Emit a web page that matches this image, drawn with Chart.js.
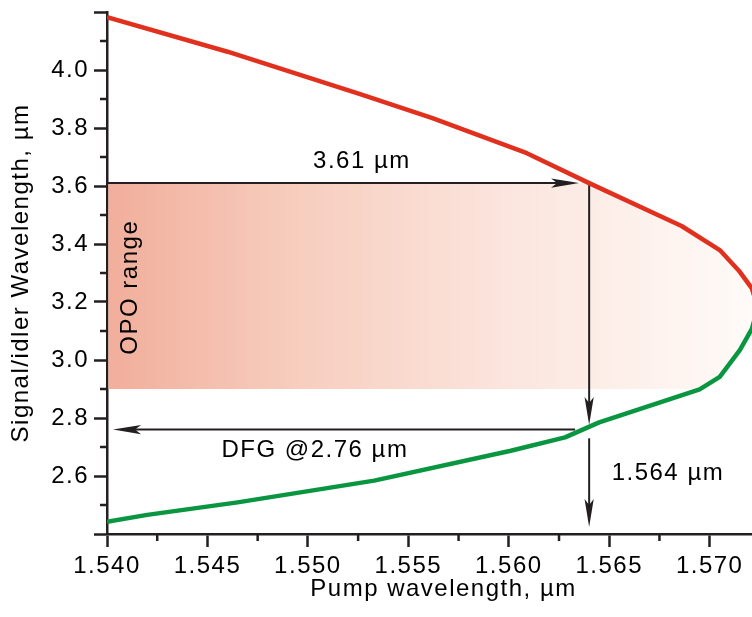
<!DOCTYPE html>
<html>
<head>
<meta charset="utf-8">
<script src="https://cdn.jsdelivr.net/npm/chart.js@4/dist/chart.umd.min.js"></script>
<style>
  html, body { margin: 0; padding: 0; background: #ffffff; overflow: hidden; }
  canvas { display: block; }
</style>
</head>
<body>
<canvas id="chart" width="780" height="617"></canvas>
<script>
// Upper tuning branch (red): pump wavelength (µm) -> long-wave output (µm)
const upperPump = [1.5400, 1.5460, 1.5526, 1.5562, 1.5609, 1.5640, 1.5686, 1.5705, 1.5715, 1.5721, 1.5724];
const upperWl   = [4.182, 4.063, 3.917, 3.834, 3.713, 3.610, 3.462, 3.379, 3.304, 3.247, 3.180];

// Lower tuning branch (green)
const lowerPump = [1.5400, 1.5420, 1.5465, 1.5533, 1.5601, 1.5628, 1.5645, 1.5695, 1.5705, 1.5715, 1.5721, 1.5724];
const lowerWl   = [2.442, 2.466, 2.509, 2.584, 2.687, 2.733, 2.785, 2.899, 2.942, 3.034, 3.107, 3.180];

// Operating point and OPO output band
const pumpWl = 1.564;       // µm
const signalWl = 3.61;      // µm
const dfgWl = 2.76;         // µm
const opoRange = [2.9, 3.61];

// Axis ticks
const xMajorTicks = [1.540, 1.545, 1.550, 1.555, 1.560, 1.565, 1.570];
const xTickLabels = ['1.540', '1.545', '1.550', '1.555', '1.560', '1.565', '1.570'];
const xMinorTicks = [1.5425, 1.5475, 1.5525, 1.5575, 1.5625, 1.5675, 1.5725];
const yMajorTicks = [2.4, 2.6, 2.8, 3.0, 3.2, 3.4, 3.6, 3.8, 4.0, 4.2];
const yTickLabels = ['', '2.6', '2.8', '3.0', '3.2', '3.4', '3.6', '3.8', '4.0', ''];
const yMinorTicks = [2.5, 2.7, 2.9, 3.1, 3.3, 3.5, 3.7, 3.9, 4.1];

const INK = '#231f20';
const FONT = '"Liberation Sans", Arial, sans-serif';
const FS = 24;
const SPACING = '1.5px';

Chart.defaults.font.family = FONT;
Chart.defaults.color = '#000';

function toPoints(xs, ys) { return xs.map((x, i) => ({ x, y: ys[i] })); }

function arrow(ctx, x1, y1, x2, y2) {
  const L = 28, W = 4.6, notch = 6;
  const dx = x2 - x1, dy = y2 - y1;
  const len = Math.hypot(dx, dy);
  const ux = dx / len, uy = dy / len;
  const nx = -uy, ny = ux;
  ctx.beginPath();
  ctx.moveTo(x1, y1);
  ctx.lineTo(x2 - ux * (L - notch), y2 - uy * (L - notch));
  ctx.stroke();
  ctx.beginPath();
  ctx.moveTo(x2, y2);
  ctx.lineTo(x2 - ux * L + nx * W, y2 - uy * L + ny * W);
  ctx.lineTo(x2 - ux * (L - notch), y2 - uy * (L - notch));
  ctx.lineTo(x2 - ux * L - nx * W, y2 - uy * L - ny * W);
  ctx.closePath();
  ctx.fill();
}

function interp(xs, ys, x) {
  for (let i = 0; i < xs.length - 1; i++) {
    if (x >= xs[i] && x <= xs[i + 1]) {
      const t = (x - xs[i]) / (xs[i + 1] - xs[i]);
      return ys[i] + t * (ys[i + 1] - ys[i]);
    }
  }
  return ys[ys.length - 1];
}

const spacingPlugin = {
  id: 'spacing',
  beforeUpdate(chart) { chart.ctx.letterSpacing = SPACING; },
  beforeDraw(chart) { chart.ctx.letterSpacing = SPACING; }
};

const overlayPlugin = {
  id: 'overlay',
  beforeDatasetsDraw(chart) {
    const { ctx, chartArea: a, scales: { x, y } } = chart;
    // OPO band, bounded by the two tuning branches
    ctx.save();
    ctx.beginPath();
    ctx.rect(a.left + 1.3, a.top, a.right - a.left, a.bottom - a.top);
    ctx.clip();
    ctx.beginPath();
    upperPump.forEach((p, i) => {
      const px = x.getPixelForValue(p), py = y.getPixelForValue(upperWl[i]);
      i ? ctx.lineTo(px, py) : ctx.moveTo(px, py);
    });
    for (let i = lowerPump.length - 1; i >= 0; i--) {
      ctx.lineTo(x.getPixelForValue(lowerPump[i]), y.getPixelForValue(lowerWl[i]));
    }
    ctx.closePath();
    ctx.clip();
    const g = ctx.createLinearGradient(a.left, 0, a.left + 650, 0);
    g.addColorStop(0, 'rgb(241,174,155)');
    g.addColorStop(0.3, 'rgb(247,206,191)');
    g.addColorStop(0.6, 'rgb(251,228,220)');
    g.addColorStop(1, 'rgb(255,251,249)');
    ctx.fillStyle = g;
    const yTop = y.getPixelForValue(opoRange[1]);
    const yBot = y.getPixelForValue(opoRange[0]);
    ctx.fillRect(a.left, yTop, a.right - a.left, yBot - yTop);
    ctx.restore();

    // Arrows
    ctx.save();
    ctx.strokeStyle = INK;
    ctx.fillStyle = INK;
    ctx.lineWidth = 2;
    const xp = x.getPixelForValue(pumpWl);
    const ySig = y.getPixelForValue(signalWl);
    const lowAtPump = interp(lowerPump, lowerWl, pumpWl);
    arrow(ctx, a.left + 1, ySig, x.getPixelForValue(1.5635), ySig);
    arrow(ctx, xp, ySig, xp, y.getPixelForValue(lowAtPump + 0.006));
    arrow(ctx, xp, y.getPixelForValue(2.73), xp, y.getPixelForValue(2.424));
    const yDfg = y.getPixelForValue(dfgWl);
    arrow(ctx, x.getPixelForValue(1.5633), yDfg, x.getPixelForValue(1.5403), yDfg);
    ctx.restore();
  },
  afterDatasetsDraw(chart) {
    const { ctx, scales: { x, y } } = chart;
    ctx.save();
    ctx.letterSpacing = SPACING;
    ctx.fillStyle = '#000';
    ctx.font = `${FS}px ${FONT}`;
    ctx.textBaseline = 'middle';
    ctx.textAlign = 'center';
    ctx.fillText(signalWl.toFixed(2) + ' µm', x.getPixelForValue(1.55269), y.getPixelForValue(3.686));
    ctx.fillText('DFG @' + dfgWl.toFixed(2) + ' µm', x.getPixelForValue(1.55035), y.getPixelForValue(2.689));
    ctx.textAlign = 'left';
    ctx.fillText(pumpWl.toFixed(3) + ' µm', x.getPixelForValue(1.56512), y.getPixelForValue(2.609));
    ctx.translate(x.getPixelForValue(1.54114), y.getPixelForValue(3.251));
    ctx.rotate(-Math.PI / 2);
    ctx.textAlign = 'center';
    ctx.fillText('OPO range', 0, 0);
    ctx.restore();
  },
  afterDraw(chart) {
    // Minor tick marks
    const { ctx, chartArea: a, scales: { x, y } } = chart;
    ctx.save();
    ctx.strokeStyle = INK;
    ctx.lineWidth = 2.5;
    ctx.beginPath();
    xMinorTicks.forEach(v => {
      const px = x.getPixelForValue(v);
      ctx.moveTo(px, a.bottom);
      ctx.lineTo(px, a.bottom + 7);
    });
    yMinorTicks.forEach(v => {
      const py = y.getPixelForValue(v);
      ctx.moveTo(a.left - 7, py);
      ctx.lineTo(a.left, py);
    });
    ctx.stroke();
    ctx.restore();
  }
};

new Chart(document.getElementById('chart'), {
  type: 'line',
  data: {
    datasets: [
      {
        label: 'upper',
        data: toPoints(upperPump, upperWl),
        borderColor: '#e1301e',
        borderWidth: 4.5,
        pointRadius: 0,
        tension: 0,
        fill: false,
        borderJoinStyle: 'round'
      },
      {
        label: 'lower',
        data: toPoints(lowerPump, lowerWl),
        borderColor: '#0a9640',
        borderWidth: 4.5,
        pointRadius: 0,
        tension: 0,
        fill: false,
        borderJoinStyle: 'round'
      }
    ]
  },
  options: {
    responsive: false,
    animation: false,
    events: [],
    layout: { padding: { top: 12, right: 0, bottom: 0, left: 0 } },
    plugins: { legend: { display: false }, tooltip: { enabled: false } },
    scales: {
      x: {
        type: 'linear',
        min: 1.540,
        max: 1.5735,
        afterBuildTicks(s) { s.ticks = xMajorTicks.map(v => ({ value: v })); },
        afterFit(s) { s.height = 83; s.paddingLeft = 0; s.paddingRight = 0; },
        ticks: {
          callback: (v, i) => xTickLabels[i] ?? '',
          autoSkip: false,
          maxRotation: 0,
          padding: 5,
          color: '#000',
          font: { size: FS }
        },
        grid: { drawOnChartArea: false, tickLength: 13, tickWidth: 2.5, tickColor: INK },
        border: { color: INK, width: 2.5 },
        title: {
          display: true,
          text: 'Pump wavelength, µm',
          color: '#000',
          font: { size: FS },
          padding: { top: 0, bottom: 13 }
        }
      },
      y: {
        type: 'linear',
        min: 2.4,
        max: 4.2,
        afterBuildTicks(s) { s.ticks = yMajorTicks.map(v => ({ value: v })); },
        afterFit(s) { s.width = 107; s.paddingTop = 0; s.paddingBottom = 0; },
        ticks: {
          callback: (v, i) => yTickLabels[i] ?? '',
          autoSkip: false,
          padding: 5,
          color: '#000',
          font: { size: FS }
        },
        grid: { drawOnChartArea: false, tickLength: 13, tickWidth: 2.5, tickColor: INK },
        border: { color: INK, width: 2.5 },
        title: {
          display: true,
          text: 'Signal/idler Wavelength, µm',
          color: '#000',
          font: { size: FS },
          padding: { top: 7, bottom: 0 }
        }
      }
    }
  },
  plugins: [spacingPlugin, overlayPlugin]
});
</script>
</body>
</html>
